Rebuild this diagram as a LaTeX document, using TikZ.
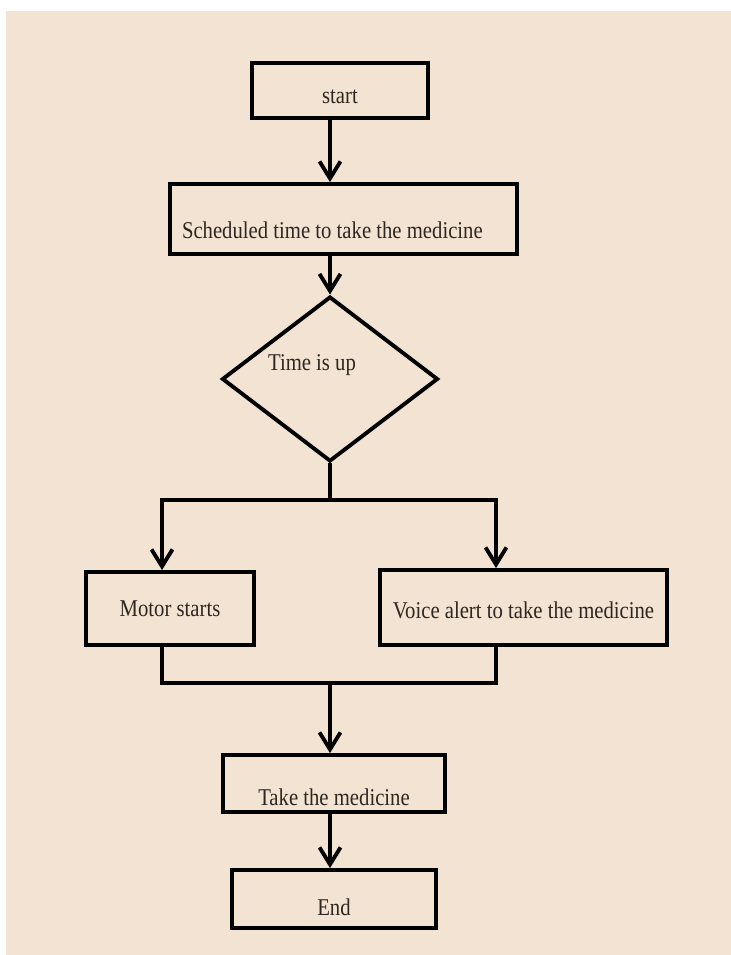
\documentclass[tikz,border=0pt]{standalone}
\usepackage{fontspec}
\setmainfont{Liberation Serif}[FakeStretch=0.86]
\usetikzlibrary{shapes.geometric,arrows.meta}
\definecolor{paper}{RGB}{243,227,211}
\definecolor{ink}{RGB}{45,38,33}

\begin{document}
\begin{tikzpicture}[
        box/.style={draw, rectangle, line width=2.2pt, inner ysep=0pt, text depth=2pt,
            font=\fontsize{13.7}{16}\selectfont, text=ink},
        flow/.style={line width=2.2pt},
        arrow/.style={flow, -{Straight Barb[length=0.34cm,width=0.42cm]}}
    ]
        \useasboundingbox (0,0) rectangle (14.62,-19.10);
        \fill[white] (-0.2,0.2) rectangle (14.9,-19.4);
        \fill[paper] (0.12,-0.22) rectangle (14.9,-19.4);

        \node[box, minimum width=3.52cm, minimum height=1.10cm, text height=16.3pt] (start) at (6.80,-1.81) {start};
        \node[box, minimum width=6.94cm, minimum height=1.40cm, text height=23.7pt,
            text width=6.46cm, align=flush left] (sched) at (6.87,-4.38) {Scheduled time to take the medicine};
        \node[draw, diamond, line width=2.2pt, inner sep=0pt, minimum width=4.32cm, minimum height=3.30cm,
            label={[font=\fontsize{13.7}{16}\selectfont, text=ink, xshift=-0.36cm, yshift=0.28cm]center:Time is up}]
            (dec) at (6.60,-7.58) {};
        \node[box, minimum width=3.36cm, minimum height=1.46cm, text height=11.2pt] (motor) at (3.40,-12.17) {Motor starts};
        \node[box, minimum width=5.74cm, minimum height=1.50cm, text height=14pt] (voice) at (10.47,-12.15) {Voice alert to take the medicine};
        \node[box, minimum width=4.44cm, minimum height=1.14cm, text height=26.6pt] (take) at (6.68,-15.67) {Take the medicine};
        \node[box, minimum width=4.08cm, minimum height=1.16cm, text height=20.3pt] (stop) at (6.68,-17.98) {End};

        \coordinate (fork) at (6.60,-10.00);
        \coordinate (forkL) at (3.24,-10.00);
        \coordinate (forkR) at (9.92,-10.00);
        \coordinate (joinL) at (3.24,-13.66);
        \coordinate (joinR) at (9.92,-13.66);

        \draw[arrow] (dec.north |- start.south) -- (dec.north |- sched.north);
        \draw[arrow] (dec.north |- sched.south) -- (dec.north);
        \draw[flow] (dec.south) -- (fork);
        \draw[arrow] (fork) -| (forkL |- motor.north);
        \draw[arrow] (fork) -| (forkR |- voice.north);
        \draw[flow] (joinL |- motor.south) -- (joinL) -- (joinR) -- (joinR |- voice.south);
        \draw[arrow] (joinL -| dec.south) -- (dec.south |- take.north);
        \draw[arrow] (dec.south |- take.south) -- (dec.south |- stop.north);
    \end{tikzpicture}
\end{document}
